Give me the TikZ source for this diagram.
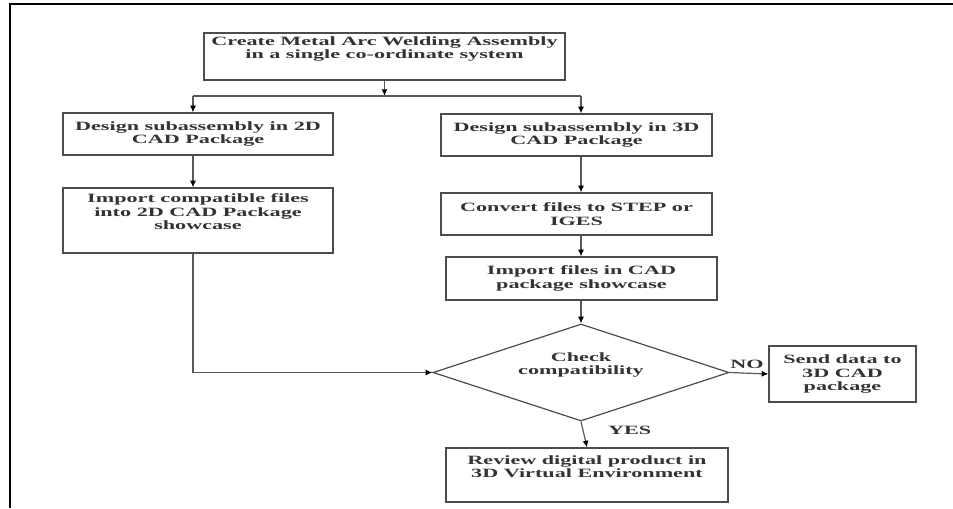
\documentclass[tikz,border=0pt]{standalone}
\usepackage{fontspec}
\setmainfont{Liberation Serif}[FakeStretch=1.75]
\usepackage{tikz}
\usetikzlibrary{arrows.meta,shapes.geometric}

\begin{document}
\begin{tikzpicture}[x=0.75pt,y=0.75pt,yscale=-1,xscale=1,
  every node/.style={font=\fontsize{9.5}{10}\selectfont\bfseries, text=black!80},
  procbox/.style={draw=black!70, line width=0.9pt, inner sep=0pt, align=center},
  decision/.style={diamond, aspect=3, draw=black!70, line width=0.9pt, inner sep=0pt, align=center},
  flow/.style={draw=black!65, line width=0.9pt},
  arr/.style={flow, -{Latex[length=5pt,width=4.5pt,color=black]}}]
\useasboundingbox (0,0) rectangle (953,508);

%Shape: Frame
\draw [line width=2.2pt] (953,4) -- (10,4) -- (10,508) ;

%Shape: Rectangles
\node [procbox, minimum width=361*0.75pt, minimum height=47*0.75pt] (create) at (384.5,56.5) {Create Metal Arc Welding Assembly\\in a single co-ordinate system\\ \strut};
\node [procbox, minimum width=270*0.75pt, minimum height=42*0.75pt] (des2d) at (198,134) {Design subassembly in 2D\\CAD Package};
\node [procbox, minimum width=270*0.75pt, minimum height=65*0.75pt] (imp2d) at (198,220.5) {Import compatible files\\into 2D CAD Package\\showcase\\ \strut};
\node [procbox, minimum width=271*0.75pt, minimum height=42*0.75pt] (des3d) at (576.5,135) {Design subassembly in 3D\\CAD Package};
\node [procbox, minimum width=271*0.75pt, minimum height=42*0.75pt] (conv) at (576.5,214) {Convert files to STEP or\\IGES};
\node [procbox, minimum width=271*0.75pt, minimum height=43*0.75pt] (impcad) at (581.5,278.5) {Import files in CAD\\package showcase};
%Shape: Diamond
\node [decision, minimum width=296*0.75pt, minimum height=97*0.75pt] (check) at (581,372.5) {Check\\compatibility\\ \strut};
\node [procbox, minimum width=147*0.75pt, minimum height=56*0.75pt] (send) at (842.5,374) {Send data to\\3D CAD\\package};
\node [procbox, minimum width=282*0.75pt, minimum height=54*0.75pt] (review) at (587,475) {Review digital product in\\3D Virtual Environment\\ \strut};

%Straight Lines
\coordinate (jl) at (193,96);
\coordinate (jr) at (581,96);
\draw [arr] (create.south) -- (create.south |- jl) ;
\draw [flow] (jl) -- (jr) ;
\draw [arr] (jl) -- (jl |- des2d.north) ;
\draw [arr] (jr) -- (jr |- des3d.north) ;
\draw [arr] (des2d.south -| jl) -- (imp2d.north -| jl) ;
\draw [arr] (imp2d.south -| jl) |- (check.west) ;
\draw [arr] (des3d.south -| jr) -- (conv.north -| jr) ;
\draw [arr] (conv.south -| jr) -- (impcad.north -| jr) ;
\draw [arr] (impcad.south -| jr) -- (check.north) ;
\draw [arr] (check.east) -- node [above, pos=0.45] {NO} (send.west) ;
\draw [arr] (check.south) -- node [right, pos=0.35, xshift=15pt] {YES} (review.north) ;

\end{tikzpicture}
\end{document}
